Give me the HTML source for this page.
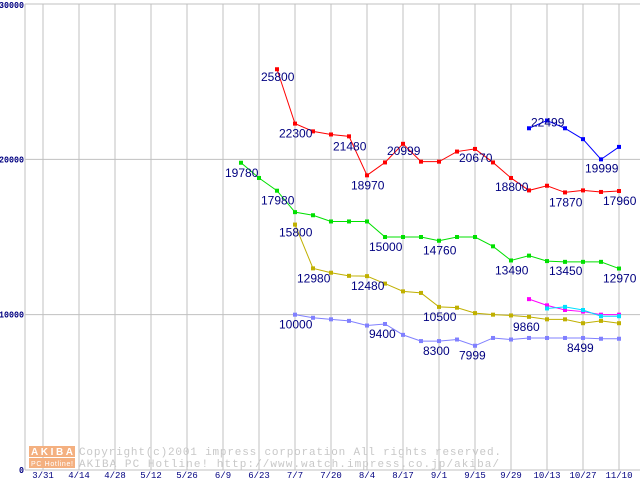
<!DOCTYPE html>
<html><head><meta charset="utf-8"><style>
body{margin:0;background:#fff;width:640px;height:480px;overflow:hidden}
svg{display:block;font-family:"Liberation Sans",sans-serif}
</style></head><body>
<svg id="chart" width="640" height="480" viewBox="0 0 640 480">
<g id="grid"></g>
<g id="wm">
<rect x="29" y="446" width="46" height="11" fill="#f4b080"/>
<text x="31" y="455" font-size="10" fill="#fff" font-weight="bold" textLength="42">AKIBA</text>
<rect x="29" y="458" width="46" height="10" fill="#f4b080"/>
<text x="31" y="466" font-size="7" fill="#fff" textLength="42">PC Hotline!</text>
<text x="79" y="455" font-size="11" fill="#c8c8c8" font-family="Liberation Mono,monospace" textLength="422">Copyright(c)2001 impress corporation All rights reserved.</text>
<text x="79" y="467" font-size="11" fill="#c8c8c8" font-family="Liberation Mono,monospace" textLength="420">AKIBA PC Hotline!  http://www.watch.impress.co.jp/akiba/</text>
</g>
<g id="series"></g>
<g id="labels"></g>
</svg>
<script>
const xTickLabels=["3/31","4/14","4/28","5/12","5/26","6/9","6/23","7/7","7/20","8/4","8/17","9/1","9/15","9/29","10/13","10/27","11/10"];
const yTicks=[0,10000,20000,30000];
const redStart=13;
const redVals=[25800,22300,21800,21600,21480,18970,19800,20999,19850,19850,20500,20670,19800,18800,18000,18300,17870,18000,17900,17960];
const blueStart=27;
const blueVals=[22000,22499,22000,21300,19999,20800];
const greenStart=11;
const greenVals=[19780,18800,17980,16600,16400,16000,16000,16000,15000,15000,15000,14760,15000,15000,14400,13490,13800,13450,13400,13400,13400,12970];
const yellowStart=14;
const yellowVals=[15800,12980,12700,12500,12480,12000,11500,11400,10500,10450,10100,10000,9950,9860,9700,9700,9450,9600,9450];
const violetStart=14;
const violetVals=[10000,9800,9700,9600,9300,9400,8700,8300,8300,8400,7999,8500,8400,8500,8499,8500,8500,8450,8450];
const magentaStart=27;
const magentaVals=[11000,10600,10300,10200,10000,10000];
const cyanStart=28;
const cyanVals=[10400,10500,10300,9900,9900];
// labels: [week, value, dx, dy]
const redLabels=[[13,25800,-16,12],[14,22300,-16,14],[17,21480,-16,14],[18,18970,-16,14],[20,20999,-16,11],[24,20670,-16,13],[26,18800,-16,13],[29,17870,-16,14],[32,17960,-16,14]];
const blueLabels=[[28,22499,-16,6],[31,19999,-16,13]];
const greenLabels=[[11,19780,-16,14],[13,17980,-16,14],[14,15800,-16,12],[19,15000,-16,14],[22,14760,-16,14],[26,13490,-16,14],[29,13450,-16,14],[32,12970,-16,14]];
const yellowLabels=[[15,12980,-16,14],[18,12480,-16,14],[22,10500,-16,14],[27,9860,-16,14]];
const violetLabels=[[14,10000,-16,14],[19,9400,-16,14],[22,8300,-16,14],[24,7999,-16,14],[30,8499,-16,14]];

const NS="http://www.w3.org/2000/svg";
function xs(w){return 43+18*w;}
function ys(v){return 470-v*466/30000;}
function mk(tag,attrs,parent){const e=document.createElementNS(NS,tag);for(const k in attrs)e.setAttribute(k,attrs[k]);parent.appendChild(e);return e;}
const grid=document.getElementById('grid');
for(let i=0;i<yTicks.length;i++){
  const y=ys(yTicks[i]);
  const l=mk('line',{x1:25,x2:640,y1:y,y2:y,stroke:'#c0c0c0','stroke-width':1},grid);
  
  
  const s=String(yTicks[i]);
  const t=mk('text',{x:24-s.length*5,y:Math.max(y+3,8),'font-size':9,fill:'#000080','font-family':'Liberation Mono,monospace','font-weight':'bold',textLength:s.length*5,lengthAdjust:'spacingAndGlyphs'},grid);
  t.textContent=s;
  
  
}
{const l=mk('line',{x1:25,x2:25,y1:4,y2:470,stroke:'#c0c0c0'},grid);

}
for(let i=0;i<xTickLabels.length;i++){
  const x=xs(i*2);
  const l=mk('line',{x1:x,x2:x,y1:4,y2:470,stroke:'#c0c0c0'},grid);
  
  
  const t=mk('text',{x:x,y:478,'text-anchor':'middle','font-size':9,fill:'#000080','font-family':'Liberation Mono,monospace'},grid);
  t.textContent=xTickLabels[i];
  
  
}
const sg=document.getElementById('series');
function series(start,vals,color,name){
  const pts=vals.map((v,i)=>xs(start+i)+','+ys(v)).join(' ');
  const p=mk('polyline',{points:pts,fill:'none',stroke:color,'stroke-width':1},sg);
  
  
  vals.forEach((v,i)=>{
    const r=mk('rect',{x:xs(start+i)-2,y:ys(v)-2,width:4,height:4,fill:color},sg);
    
    
  });
}
series(greenStart,greenVals,'#00e000','green-series');
series(yellowStart,yellowVals,'#c0b000','yellow-series');
series(violetStart,violetVals,'#8080ff','violet-series');
series(magentaStart,magentaVals,'#ff00ff','magenta-series');
series(cyanStart,cyanVals,'#00e0ff','cyan-series');
series(redStart,redVals,'#ff0000','red-series');
series(blueStart,blueVals,'#0000ff','blue-series');
const lg=document.getElementById('labels');
[redLabels,blueLabels,greenLabels,yellowLabels,violetLabels].forEach(arr=>arr.forEach(a=>{
  const t=mk('text',{x:xs(a[0])+a[2],y:ys(a[1])+a[3],'font-size':12,fill:'#000080'},lg);
  t.textContent=a[1];
  
  
}));
</script>
</body></html>
